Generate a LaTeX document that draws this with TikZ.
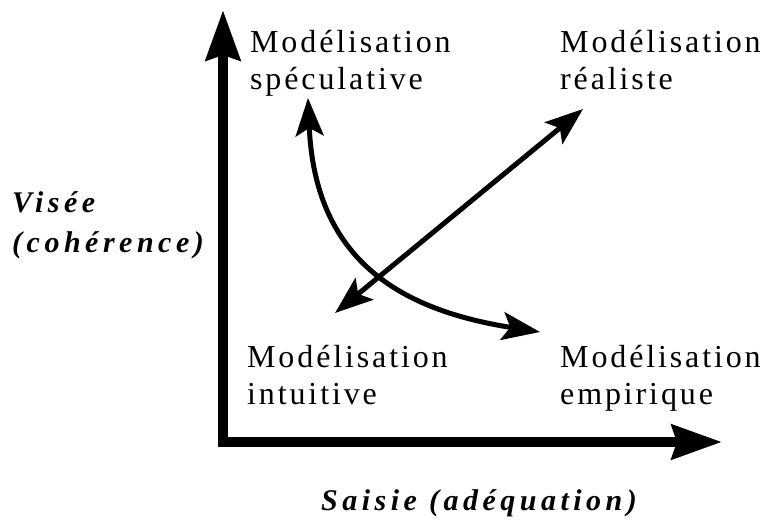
\documentclass[tikz,border=0pt]{standalone}
\usepackage{fontspec}
\usetikzlibrary{arrows.meta}
\setmainfont{Liberation Serif}
\newcommand{\labfont}{\rmfamily\addfontfeatures{LetterSpace=9}}
\newcommand{\axfont}{\rmfamily\bfseries\itshape\addfontfeatures{LetterSpace=15}}
\begin{document}
\begin{tikzpicture}[x=1pt,y=-1pt,
  lab/.style={anchor=base west,inner sep=0pt,font=\fontsize{32}{37}\selectfont\labfont},
  axlab/.style={anchor=base west,inner sep=0pt,font=\fontsize{30}{40}\selectfont\axfont},
  axis/.style={line width=10pt,-{Stealth[length=50pt,width=34pt,inset=5pt]}},
  link/.style={line width=5pt,{Stealth[length=38pt,width=28pt,inset=8pt]}-{Stealth[length=38pt,width=28pt,inset=8pt]}}]
\useasboundingbox (0,0) rectangle (766,521);
% axes
\coordinate (o) at (223,447);
\coordinate (ytop) at (223,10);
\coordinate (oh) at (218,442);
\coordinate (xend) at (722,442);
\draw[axis] (o) -- (ytop);
\draw[axis] (oh) -- (xend);
% labels
\node[lab] (spec1) at (250,53) {Modélisation};
\node[lab] (spec2) at (250,90) {spéculative};
\node[lab] (real1) at (560,53) {Modélisation};
\node[lab] (real2) at (560,90) {réaliste};
\node[lab] (intu1) at (247,367) {Modélisation};
\node[lab] (intu2) at (247,404) {intuitive};
\node[lab] (empi1) at (560,367) {Modélisation};
\node[lab] (empi2) at (560,404) {empirique};
\node[axlab] (vis1) at (12,213) {Visée};
\node[axlab] (vis2) at (12,253) {(cohérence)};
\node[axlab,anchor=base] (sais) at (479,510) {Saisie (adéquation)};
% connectors
\coordinate (a1) at (308,98);
\coordinate (a2) at (540,332);
\coordinate (b1) at (335,313);
\coordinate (b2) at (583,109);
\draw[link] (a1) .. controls (315,260) and (400,310) .. (a2);
\draw[link] (b1) -- (b2);
\end{tikzpicture}
\end{document}
